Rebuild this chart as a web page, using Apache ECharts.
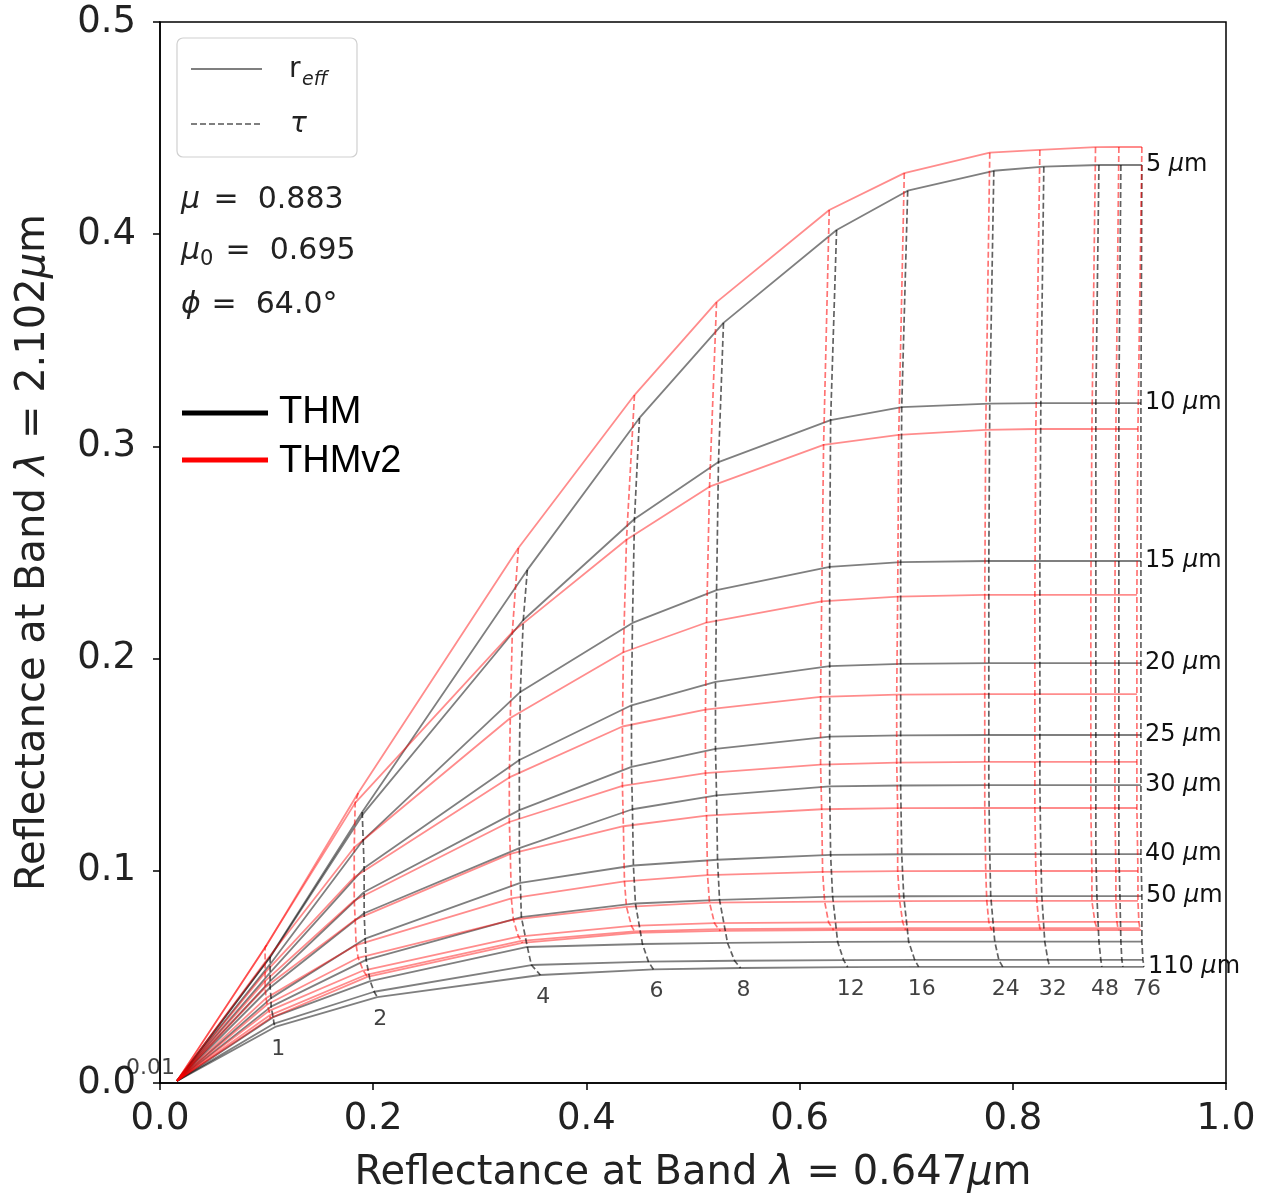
<!DOCTYPE html>
<html><head><meta charset="utf-8">
<script src="https://cdn.jsdelivr.net/npm/echarts@6/dist/echarts.min.js"></script>
<style>html,body{margin:0;padding:0;background:#fff}#c{width:1267px;height:1203px}</style>
</head><body><div id="c"></div>
<script>
// optical thickness grid (tau) and effective radius grid (r_eff)
const tauValues = [0.01, 1, 2, 4, 6, 8, 12, 16, 24, 32, 48, 60, 76];
const tauLabels = ['0.01', '1', '2', '4', '6', '8', '12', '16', '24', '32', '48', '', '76'];
const reffValues = [5, 10, 15, 20, 25, 30, 40, 50, 60, 80, 110];
const reffLabels = ['5', '10', '15', '20', '25', '30', '40', '50', '', '', '110'];
const xTicks = [0.0, 0.2, 0.4, 0.6, 0.8, 1.0];
const yTicks = [0.0, 0.1, 0.2, 0.3, 0.4, 0.5];

// THM: reflectance at 0.647 um (rows = r_eff, cols = tau)
const thmX = [
  [0.016, 0.1033, 0.1897, 0.3446, 0.4498, 0.5286, 0.6347, 0.7014, 0.7822, 0.8291, 0.8808, 0.9014, 0.9211],
  [0.016, 0.1033, 0.1906, 0.3408, 0.4451, 0.5239, 0.6291, 0.6958, 0.7784, 0.8263, 0.8779, 0.8995, 0.9202],
  [0.016, 0.1033, 0.1906, 0.3380, 0.4432, 0.5221, 0.6282, 0.6948, 0.7775, 0.8254, 0.8779, 0.8995, 0.9202],
  [0.016, 0.1033, 0.1915, 0.3371, 0.4423, 0.5211, 0.6282, 0.6948, 0.7775, 0.8254, 0.8779, 0.8995, 0.9202],
  [0.016, 0.1033, 0.1915, 0.3371, 0.4423, 0.5211, 0.6282, 0.6948, 0.7775, 0.8254, 0.8779, 0.8995, 0.9202],
  [0.016, 0.1033, 0.1915, 0.3371, 0.4432, 0.5221, 0.6282, 0.6948, 0.7775, 0.8254, 0.8779, 0.8995, 0.9202],
  [0.016, 0.1042, 0.1925, 0.3380, 0.4441, 0.5230, 0.6291, 0.6958, 0.7784, 0.8263, 0.8779, 0.8995, 0.9202],
  [0.016, 0.1042, 0.1934, 0.3390, 0.4460, 0.5249, 0.6310, 0.6977, 0.7793, 0.8272, 0.8789, 0.9005, 0.9211],
  [0.016, 0.1061, 0.1972, 0.3446, 0.4526, 0.5324, 0.6357, 0.7023, 0.7831, 0.8300, 0.8808, 0.9014, 0.9211],
  [0.016, 0.1070, 0.2009, 0.3484, 0.4582, 0.5390, 0.6413, 0.7080, 0.7869, 0.8329, 0.8826, 0.9023, 0.9221],
  [0.016, 0.1080, 0.2038, 0.3568, 0.4629, 0.5446, 0.6451, 0.7117, 0.7906, 0.8347, 0.8836, 0.9033, 0.9230]
];
// THM: reflectance at 2.102 um
const thmY = [
  [0.001, 0.0595, 0.1277, 0.2418, 0.3134, 0.3582, 0.4020, 0.4205, 0.4299, 0.4318, 0.4326, 0.4326, 0.4326],
  [0.001, 0.0593, 0.1268, 0.2182, 0.2658, 0.2926, 0.3124, 0.3185, 0.3202, 0.3204, 0.3204, 0.3204, 0.3204],
  [0.001, 0.0560, 0.1145, 0.1843, 0.2168, 0.2323, 0.2432, 0.2455, 0.2460, 0.2460, 0.2460, 0.2460, 0.2460],
  [0.001, 0.0520, 0.1013, 0.1522, 0.1780, 0.1890, 0.1965, 0.1975, 0.1979, 0.1979, 0.1979, 0.1979, 0.1979],
  [0.001, 0.0480, 0.0900, 0.1286, 0.1490, 0.1575, 0.1632, 0.1638, 0.1640, 0.1640, 0.1640, 0.1640, 0.1640],
  [0.001, 0.0450, 0.0800, 0.1107, 0.1290, 0.1355, 0.1398, 0.1402, 0.1404, 0.1404, 0.1404, 0.1404, 0.1404],
  [0.001, 0.0400, 0.0680, 0.0943, 0.1025, 0.1052, 0.1075, 0.1078, 0.1079, 0.1079, 0.1079, 0.1079, 0.1079],
  [0.001, 0.0360, 0.0580, 0.0782, 0.0846, 0.0863, 0.0878, 0.0880, 0.0881, 0.0881, 0.0881, 0.0881, 0.0881],
  [0.001, 0.0310, 0.0480, 0.0641, 0.0655, 0.0660, 0.0665, 0.0666, 0.0666, 0.0666, 0.0666, 0.0666, 0.0666],
  [0.001, 0.0280, 0.0430, 0.0556, 0.0572, 0.0576, 0.0579, 0.0580, 0.0580, 0.0580, 0.0580, 0.0580, 0.0580],
  [0.001, 0.0264, 0.0405, 0.0509, 0.0535, 0.0542, 0.0546, 0.0547, 0.0547, 0.0547, 0.0547, 0.0547, 0.0547]
];
// THMv2: reflectance at 0.647 um
const thm2X = [
  [0.016, 0.1002, 0.1859, 0.3362, 0.4451, 0.5221, 0.6278, 0.6982, 0.7784, 0.8254, 0.8776, 0.8995, 0.9211],
  [0.016, 0.0986, 0.1831, 0.3305, 0.4376, 0.5155, 0.6225, 0.6930, 0.7746, 0.8216, 0.8742, 0.8967, 0.9174],
  [0.016, 0.0986, 0.1822, 0.3286, 0.4347, 0.5127, 0.6207, 0.6920, 0.7737, 0.8207, 0.8732, 0.8958, 0.9164],
  [0.016, 0.0986, 0.1822, 0.3277, 0.4338, 0.5117, 0.6197, 0.6911, 0.7737, 0.8207, 0.8732, 0.8958, 0.9164],
  [0.016, 0.0986, 0.1822, 0.3277, 0.4338, 0.5117, 0.6197, 0.6911, 0.7737, 0.8207, 0.8732, 0.8958, 0.9164],
  [0.016, 0.0986, 0.1831, 0.3286, 0.4347, 0.5127, 0.6207, 0.6920, 0.7737, 0.8207, 0.8732, 0.8958, 0.9164],
  [0.016, 0.0995, 0.1840, 0.3296, 0.4357, 0.5136, 0.6216, 0.6920, 0.7746, 0.8216, 0.8742, 0.8967, 0.9174],
  [0.016, 0.1005, 0.1859, 0.3315, 0.4376, 0.5155, 0.6235, 0.6939, 0.7756, 0.8225, 0.8742, 0.8967, 0.9174],
  [0.016, 0.1023, 0.1906, 0.3362, 0.4423, 0.5202, 0.6272, 0.6967, 0.7775, 0.8244, 0.8770, 0.8977, 0.9183],
  [0.016, 0.1033, 0.1934, 0.3390, 0.4451, 0.5239, 0.6310, 0.6986, 0.7793, 0.8254, 0.8789, 0.8986, 0.9192],
  [0.016, 0.1033, 0.1944, 0.3399, 0.4460, 0.5258, 0.6319, 0.6995, 0.7803, 0.8263, 0.8798, 0.8995, 0.9202]
];
// THMv2: reflectance at 2.102 um
const thm2Y = [
  [0.001, 0.0650, 0.1367, 0.2521, 0.3242, 0.3680, 0.4114, 0.4288, 0.4384, 0.4397, 0.4410, 0.4411, 0.4411],
  [0.001, 0.0640, 0.1320, 0.2125, 0.2560, 0.2810, 0.3007, 0.3054, 0.3078, 0.3082, 0.3082, 0.3082, 0.3082],
  [0.001, 0.0570, 0.1110, 0.1720, 0.2030, 0.2170, 0.2270, 0.2292, 0.2300, 0.2300, 0.2300, 0.2300, 0.2300],
  [0.001, 0.0520, 0.0970, 0.1440, 0.1680, 0.1760, 0.1820, 0.1830, 0.1833, 0.1833, 0.1833, 0.1833, 0.1833],
  [0.001, 0.0480, 0.0860, 0.1230, 0.1400, 0.1460, 0.1500, 0.1510, 0.1513, 0.1513, 0.1513, 0.1513, 0.1513],
  [0.001, 0.0450, 0.0770, 0.1080, 0.1210, 0.1260, 0.1290, 0.1295, 0.1296, 0.1296, 0.1296, 0.1296, 0.1296],
  [0.001, 0.0400, 0.0650, 0.0870, 0.0950, 0.0980, 0.0995, 0.0998, 0.0999, 0.0999, 0.0999, 0.0999, 0.0999],
  [0.001, 0.0370, 0.0590, 0.0770, 0.0830, 0.0850, 0.0855, 0.0857, 0.0858, 0.0858, 0.0858, 0.0858, 0.0858],
  [0.001, 0.0340, 0.0530, 0.0690, 0.0740, 0.0753, 0.0757, 0.0759, 0.0759, 0.0759, 0.0759, 0.0759, 0.0759],
  [0.001, 0.0320, 0.0510, 0.0670, 0.0715, 0.0725, 0.0728, 0.0730, 0.0730, 0.0730, 0.0730, 0.0730, 0.0730],
  [0.001, 0.0305, 0.0500, 0.0660, 0.0707, 0.0717, 0.0720, 0.0721, 0.0721, 0.0721, 0.0721, 0.0721, 0.0721]
];

const FONT = 'DejaVu Sans';
const BLACK = 'rgba(0,0,0,0.5)';
const RED = 'rgba(255,0,0,0.45)';
const BLACK_D = 'rgba(0,0,0,0.62)';
const RED_D = 'rgba(255,0,0,0.55)';

function reffSeries(X, Y, color, withLabels, tag) {
  return X.map((row, r) => {
    const s = {
      type: 'line', name: tag + ' r_eff ' + reffValues[r],
      data: row.map((x, j) => [x, Y[r][j]]),
      symbol: 'none', silent: true, z: 2,
      lineStyle: { color: color, width: 1.8 }
    };
    if (withLabels && reffLabels[r]) {
      s.endLabel = {
        show: true, distance: 4,
        formatter: reffLabels[r] + ' {i|\u03bc}m',
        fontFamily: FONT, fontSize: 24, color: '#111',
        rich: { i: { fontFamily: FONT, fontSize: 24, fontStyle: 'italic', color: '#111' } }
      };
    }
    return s;
  });
}
function tauSeries(X, Y, color, tag) {
  const out = [];
  for (let j = 1; j < tauValues.length; j++) {
    out.push({
      type: 'line', name: tag + ' tau ' + tauValues[j],
      data: X.map((row, r) => [row[j], Y[r][j]]),
      symbol: 'none', silent: true, z: 3,
      lineStyle: { color: color, width: 1.7, type: [6, 3] }
    });
  }
  return out;
}

const last = thmX.length - 1;
const tauLabelSeries = {
  type: 'scatter', symbolSize: 0, silent: true, z: 5,
  data: tauValues.map((t, j) => {
    const d = { value: [thmX[last][j], thmY[last][j]], name: tauLabels[j] };
    if (j === 0) {
      d.value = [thmX[0][0], thmY[0][0]];
      d.label = { position: 'left', distance: 2, offset: [0, -13] };
    }
    return d;
  }),
  label: {
    show: true, position: 'bottom', distance: 11, offset: [3, 0],
    formatter: p => p.name, fontFamily: FONT, fontSize: 22, color: '#111'
  }
};

const series = [].concat(
  reffSeries(thmX, thmY, BLACK, true, 'THM'),
  tauSeries(thmX, thmY, BLACK_D, 'THM'),
  reffSeries(thm2X, thm2Y, RED, false, 'THMv2'),
  tauSeries(thm2X, thm2Y, RED_D, 'THMv2'),
  [tauLabelSeries]
);

const axisCommon = {
  type: 'value',
  axisLine: { show: true, onZero: false, lineStyle: { color: '#000', width: 1.5 } },
  axisTick: { show: true, length: 7, lineStyle: { color: '#000', width: 1.5 } },
  splitLine: { show: false },
  nameLocation: 'middle'
};

const chart = echarts.init(document.getElementById('c'), null, { renderer: 'canvas' });
chart.setOption({
  animation: false,
  backgroundColor: '#fff',
  grid: { left: 160, right: 41, top: 22, bottom: 120, show: true, borderColor: '#000', borderWidth: 1.5 },
  xAxis: Object.assign({}, axisCommon, {
    min: xTicks[0], max: xTicks[xTicks.length - 1], interval: 0.2,
    axisLabel: { fontFamily: FONT, fontSize: 37, color: '#222', margin: 18, formatter: v => v.toFixed(1) },
    name: 'Reflectance at Band {i|\u03bb} = 0.647{i|\u03bc}m', nameGap: 71,
    nameTextStyle: { fontFamily: FONT, fontSize: 40, color: '#222',
      rich: { i: { fontFamily: FONT, fontSize: 40, fontStyle: 'italic', color: '#222' } } }
  }),
  yAxis: Object.assign({}, axisCommon, {
    min: yTicks[0], max: yTicks[yTicks.length - 1], interval: 0.1,
    axisLabel: { fontFamily: FONT, fontSize: 37, color: '#222', margin: 24, formatter: v => v.toFixed(1) },
    name: 'Reflectance at Band {i|\u03bb} = 2.102{i|\u03bc}m', nameGap: 106,
    nameTextStyle: { fontFamily: FONT, fontSize: 40, color: '#222',
      rich: { i: { fontFamily: FONT, fontSize: 40, fontStyle: 'italic', color: '#222' } } }
  }),
  graphic: [
    { type: 'rect', shape: { x: 177, y: 38, width: 180, height: 119, r: 6 }, z: 100,
      style: { fill: 'rgba(255,255,255,0.85)', stroke: '#d0d0d0', lineWidth: 1.2 } },
    { type: 'line', shape: { x1: 191, y1: 69, x2: 262, y2: 69 }, z: 101,
      style: { stroke: 'rgba(0,0,0,0.5)', lineWidth: 1.8 } },
    { type: 'line', shape: { x1: 191, y1: 124, x2: 262, y2: 124 }, z: 101,
      style: { stroke: 'rgba(0,0,0,0.5)', lineWidth: 1.8, lineDash: [6, 3] } },
    { type: 'text', x: 289, y: 70, z: 101, style: { text: 'r', font: '28px "DejaVu Sans"', fill: '#222', verticalAlign: 'middle' } },
    { type: 'text', x: 302, y: 80, z: 101, style: { text: 'eff', font: 'italic 19px "DejaVu Sans"', fill: '#222', verticalAlign: 'middle' } },
    { type: 'text', x: 290, y: 125, z: 101, style: { text: '\u03c4', font: 'italic 28px "DejaVu Sans"', fill: '#222', verticalAlign: 'middle' } },
    { type: 'text', x: 181, y: 200, z: 101, style: { text: '\u03bc', font: 'italic 30px "DejaVu Sans"', fill: '#222', verticalAlign: 'middle' } },
    { type: 'text', x: 204, y: 200, z: 101, style: { text: ' =  0.883', font: '30px "DejaVu Sans"', fill: '#222', verticalAlign: 'middle' } },
    { type: 'text', x: 181, y: 251, z: 101, style: { text: '\u03bc', font: 'italic 30px "DejaVu Sans"', fill: '#222', verticalAlign: 'middle' } },
    { type: 'text', x: 200, y: 260, z: 101, style: { text: '0', font: '21px "DejaVu Sans"', fill: '#222', verticalAlign: 'middle' } },
    { type: 'text', x: 216, y: 251, z: 101, style: { text: ' =  0.695', font: '30px "DejaVu Sans"', fill: '#222', verticalAlign: 'middle' } },
    { type: 'text', x: 181, y: 305, z: 101, style: { text: '\u03d5', font: 'italic 30px "DejaVu Sans"', fill: '#222', verticalAlign: 'middle' } },
    { type: 'text', x: 202, y: 305, z: 101, style: { text: ' =  64.0\u00b0', font: '30px "DejaVu Sans"', fill: '#222', verticalAlign: 'middle' } },
    { type: 'line', shape: { x1: 182, y1: 413, x2: 268, y2: 413 }, z: 101, style: { stroke: '#000', lineWidth: 5 } },
    { type: 'line', shape: { x1: 182, y1: 460, x2: 268, y2: 460 }, z: 101, style: { stroke: '#ff0000', lineWidth: 5 } },
    { type: 'text', x: 279, y: 413, z: 101, style: { text: 'THM', font: '38px "Liberation Sans"', fill: '#000', verticalAlign: 'middle' } },
    { type: 'text', x: 279, y: 462, z: 101, style: { text: 'THMv2', font: '38px "Liberation Sans"', fill: '#000', verticalAlign: 'middle' } }
  ],
  series: series
});
</script></body></html>
